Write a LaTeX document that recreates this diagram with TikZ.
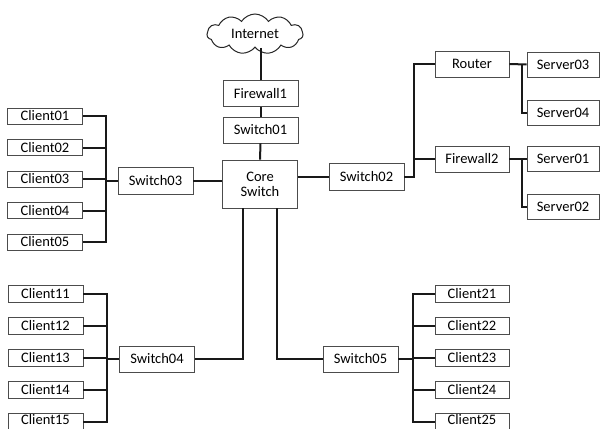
\documentclass[tikz,border=0pt]{standalone}
\usepackage{fontspec}
\setmainfont{Carlito}
\usetikzlibrary{shapes.symbols}
\tikzset{
  box/.style={draw=black!70, line width=0.9pt, fill=white, inner sep=0pt,
    minimum width=75pt, minimum height=26pt, font=\fontsize{14.5}{16}\selectfont},
  client/.style={box, minimum height=17pt},
  link/.style={line width=2pt, black!90}
}
\begin{document}
\begin{tikzpicture}[x=1pt, y=-1pt]
\useasboundingbox (0,0) rectangle (601,428);

% core path
\node[cloud, cloud puffs=11, cloud puff arc=115, aspect=2.4, draw=black!85, line width=1pt,
      minimum width=96pt, minimum height=40pt, inner sep=0pt,
      font=\fontsize{14.5}{16}\selectfont] (inet) at (255,34) {Internet};
\node[box] (fw1) at (260.5,93.5) {Firewall1};
\node[box] (sw01) at (260.5,130) {Switch01};
\node[box, minimum height=48pt, align=center] (core) at (260,184) {Core\\[-1pt]Switch};

% distribution switches
\node[box, minimum height=27pt] (sw03) at (155.5,181) {Switch03};
\node[box, minimum height=27pt] (sw02) at (366.5,176.5) {Switch02};
\node[box] (sw04) at (157,359) {Switch04};
\node[box] (sw05) at (360.5,359) {Switch05};

% server side
\node[box, minimum width=74pt] (router) at (472,64) {Router};
\node[box, minimum width=74pt] (fw2) at (472,159) {Firewall2};
\node[box, minimum width=72pt, minimum height=25pt] (srv03) at (563,64.5) {Server03};
\node[box, minimum width=72pt, minimum height=25pt] (srv04) at (563,112.5) {Server04};
\node[box, minimum width=72pt, minimum height=25pt] (srv01) at (563,159) {Server01};
\node[box, minimum width=72pt, minimum height=25pt] (srv02) at (563,207) {Server02};

% client groups
\foreach \n/\y in {01/116,02/147.5,03/179,04/210.5,05/242}
  \node[client, minimum height=16pt] (c\n) at (45,\y) {Client\n};
\foreach \n/\y/\r in {11/294/1,12/325.9/1,13/357.8/1,14/389.7/1,15/421.6/3.5}
  \node[client] (c\n) at (45.5,\y) {\raisebox{\r pt}{Client\n}};
\foreach \n/\y/\r in {21/294/1,22/325.9/1,23/357.8/1,24/389.7/1,25/421.6/3.5}
  \node[client, minimum width=74pt] (c\n) at (472,\y) {\raisebox{\r pt}{Client\n}};

% backbone
\draw[link] (inet.south -| fw1.north) -- (fw1.north);
\draw[link] (fw1.south) -- (sw01.north);
\draw[link] (sw01.south) -- (core.north);
\draw[link] (sw03.east) -- (sw03.east -| core.west);
\draw[link] (core.east |- sw02.west) -- (sw02.west);
\coordinate (d4) at (243,0);
\coordinate (d5) at (277,0);
\draw[link] (core.south -| d4) |- (sw04.east);
\draw[link] (core.south -| d5) |- (sw05.west);

% Switch02 fan-out
\coordinate (b2) at (414,0);
\draw[link] (sw02.east) -| (b2 |- router.west) -- (router.west);
\draw[link] (b2 |- fw2.west) -- (fw2.west);

% router and firewall fan-out
\coordinate (bs) at (522,0);
\draw[link] (router.east) -- (srv03.west);
\draw[link] (bs |- srv03.west) |- (srv04.west);
\draw[link] (fw2.east) -- (srv01.west);
\draw[link] (bs |- srv01.west) |- (srv02.west);

% Switch03 clients
\coordinate (b3) at (106,0);
\draw[link] (sw03.west) -- (b3 |- sw03.west);
\draw[link] (c01.east) -| (b3 |- c05.east) -- (c05.east);
\foreach \n in {02,03,04} \draw[link] (c\n.east) -- (b3 |- c\n.east);

% Switch04 clients
\coordinate (b4) at (107,0);
\draw[link] (sw04.west) -- (b4 |- sw04.west);
\draw[link] (c11.east) -| (b4 |- c15.east) -- (c15.east);
\foreach \n in {12,13,14} \draw[link] (c\n.east) -- (b4 |- c\n.east);

% Switch05 clients
\coordinate (b5) at (413,0);
\draw[link] (sw05.east) -- (b5 |- sw05.east);
\draw[link] (c21.west) -| (b5 |- c25.west) -- (c25.west);
\foreach \n in {22,23,24} \draw[link] (c\n.west) -- (b5 |- c\n.west);
\end{tikzpicture}
\end{document}
